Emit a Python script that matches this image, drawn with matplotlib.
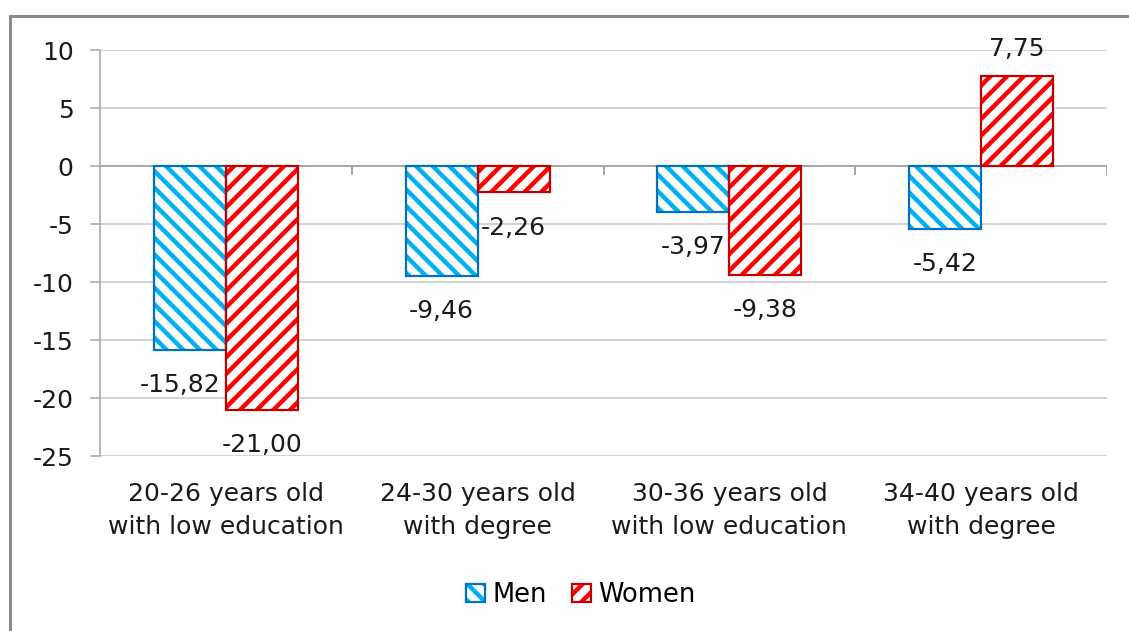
import matplotlib
matplotlib.use("Agg")
import matplotlib.pyplot as plt
from matplotlib.patches import Patch, Rectangle
import numpy as np

# données
categories = ["20-26 years old\nwith low education", "24-30 years old\nwith degree",
              "30-36 years old\nwith low education", "34-40 years old\nwith degree"]
men = [-15.82, -9.46, -3.97, -5.42]
women = [-21.00, -2.26, -9.38, 7.75]
y_ticks = [10, 5, 0, -5, -10, -15, -20, -25]

plt.rcParams['font.family'] = ['DejaVu Sans']
plt.rcParams['hatch.linewidth'] = 3.2

fs = 18
men_hatch, men_edge = "#00B0F0", "#0070C0"
women_hatch, women_edge = "#FF0000", "#C00000"
grid_col = "#C8C8C8"
axis_col = "#A6A6A6"

fig = plt.figure(figsize=(11.29, 6.31), dpi=100)
W, H = 1129, 631
ax = fig.add_axes([100 / W, 1 - 456 / H, (1107 - 100) / W, (456 - 50) / H])

# cadre extérieur (coupé à droite et en bas comme dans la capture)
fig.patches.append(Rectangle((10 / W, -0.1), 1.2, 1 - 16 / H + 0.1, transform=fig.transFigure,
                             fill=False, edgecolor="#8C8C8C", linewidth=2.2, zorder=0))

x = np.arange(len(categories))
bw = 0.286

def draw_bars(xpos, vals, hcol, ecol, hatch):
    ax.bar(xpos, vals, bw, color="white", edgecolor=hcol, hatch=hatch, linewidth=0, zorder=3)
    ax.bar(xpos, vals, bw, fill=False, edgecolor=ecol, linewidth=1.6, zorder=4)

draw_bars(x - bw / 2, men, men_hatch, men_edge, "\\\\")
draw_bars(x + bw / 2, women, women_hatch, women_edge, "//")

# étiquettes de valeurs
nudge_men = [-10, 0, 0, 0]
for xs, vals, nud in [(x - bw / 2, men, nudge_men), (x + bw / 2, women, [0] * 4)]:
    for xi, v, n in zip(xs, vals, nud):
        dy = 14.4 if v > 0 else -30.5
        ax.annotate(f"{v:.2f}".replace(".", ","), (xi, v), xytext=(n * 0.72, dy),
                    textcoords="offset points", ha="center", va="baseline",
                    fontsize=fs, color="#1A1A1A", zorder=5)

ax.set_xlim(-0.5, len(categories) - 0.5)
ax.set_ylim(-25, 10)
ax.set_yticks(y_ticks)
ax.set_yticklabels([str(t) for t in y_ticks])
ax.yaxis.grid(True, color=grid_col, linewidth=1.1, zorder=0)
ax.set_axisbelow(True)

ax.set_xticks(x)
ax.set_xticklabels(categories, fontsize=fs, linespacing=1.45)
ax.tick_params(axis="x", length=0, pad=19, colors="#1A1A1A")
ax.tick_params(axis="y", length=7, width=1.1, color=axis_col, pad=12,
               labelsize=fs, labelcolor="#1A1A1A")

for s in ["top", "right", "bottom"]:
    ax.spines[s].set_visible(False)
ax.spines["left"].set_color(axis_col)
ax.spines["left"].set_linewidth(1.1)

# axe des catégories à zéro avec graduations entre groupes
ax.axhline(0, color=axis_col, linewidth=1.4, zorder=2)
ax.vlines(np.arange(len(categories)) + 0.5, 0, -0.8, color=axis_col, linewidth=1.4, zorder=2)

# légende
h_men = (Patch(facecolor="white", edgecolor=men_hatch, hatch="\\\\", linewidth=0),
         Patch(fill=False, edgecolor=men_edge, linewidth=1.6))
h_women = (Patch(facecolor="white", edgecolor=women_hatch, hatch="//", linewidth=0),
           Patch(fill=False, edgecolor=women_edge, linewidth=1.6))
fig.legend([h_men, h_women], ["Men", "Women"], loc="center",
           bbox_to_anchor=(581 / W, 1 - 595 / H), ncol=2, frameon=False, fontsize=fs + 0.5,
           handlelength=0.72, handleheight=0.72, handletextpad=0.3, columnspacing=1.0)

fig.savefig("out.png", dpi=100)
